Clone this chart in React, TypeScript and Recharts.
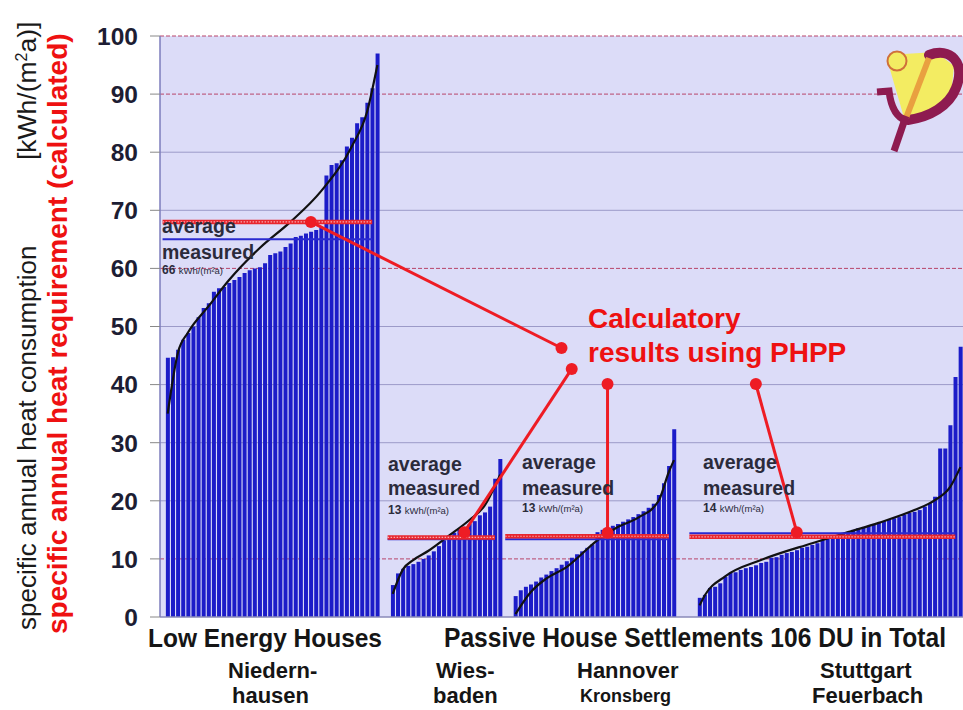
import React from "react";
import {
  ComposedChart,
  Bar,
  Line,
  XAxis,
  YAxis,
  CartesianGrid,
  ReferenceLine,
  ReferenceDot,
} from "recharts";

const FONT = "'Liberation Sans', Arial, Helvetica, sans-serif";

const yTicks = [0, 10, 20, 30, 40, 50, 60, 70, 80, 90, 100];
const plainGridValues = [20, 30, 40, 50, 70, 80];
const redGridValues = [10, 60, 90, 100];

// measured heat consumption per dwelling, sorted, kWh/(m²a)
const niedernhausen = [
  44.6, 44.7, 46, 47.7, 48.9, 50, 51.6, 53.2, 54, 56, 56.6, 56.8, 57.5, 58,
  58.5, 59.2, 59.7, 60, 60.2, 60.9, 62.3, 62.6, 62.9, 63.7, 64.3, 65.4, 65.6,
  66, 66.3, 66.6, 67, 76, 77.8, 78.1, 78.6, 81, 82.5, 85, 86, 88.5, 91, 97,
];
const wiesbaden = [
  5.5, 7.5, 8.3, 8.8, 9.1, 9.5, 10, 10.6, 11.3, 12.2, 13.2, 14, 14.5, 15, 15.4,
  16, 16.5, 17.5, 18, 19, 23.8, 27.2,
];
const hannover = [
  3.6, 4.6, 5.2, 5.6, 6.1, 6.8, 7.3, 7.9, 8.4, 9, 9.6, 10.2, 10.8, 11.3, 11.9,
  12.5, 14.6, 15, 15.3, 15.7, 16, 16.4, 16.8, 17.2, 17.7, 18.2, 18.8, 19.5, 21,
  23, 26, 32.3,
];
const stuttgart = [
  3.3, 3.8, 5, 5.2, 5.8, 6.9, 7.6, 7.7, 8.1, 8.4, 8.6, 8.9, 9.3, 9.5, 10.2,
  10.3, 10.7, 11, 11.2, 11.5, 11.9, 12.1, 12.4, 12.7, 13.3, 13.6, 13.8, 14.1,
  14.5, 14.6, 15, 15.3, 15.5, 15.7, 16, 16.2, 16.5, 16.7, 17, 17.2, 17.6, 17.9,
  18.1, 18.4, 19, 19.6, 20.7, 29, 29, 33, 41.3, 46.5,
];

const niedernhausenTrend = [
  [0, 35], [2, 45.5], [4, 49], [8, 53.5], [12, 58], [18, 63.5], [24, 68],
  [30, 73.3], [36, 81], [39, 87], [41, 95],
];
const wiesbadenTrend = [
  [0, 4], [2, 8.2], [4, 9.8], [7, 11.4], [11, 14], [15, 16.7], [18, 19.2],
  [21, 24.5],
];
const hannoverTrend = [
  [0, 0.5], [3, 4.3], [6, 6.6], [10, 8.6], [16, 13.2], [20, 15.5], [24, 17.1],
  [28, 20], [30, 25], [31, 27],
];
const stuttgartTrend = [
  [0, 2], [1, 3.7], [5, 7], [12, 9.8], [22, 12.7], [29, 14.6], [35, 16.2],
  [42, 18.4], [46, 20.1], [49, 22.4], [51, 25.8],
];

const emptySlotsBefore = [1, 2, 2, 4];
const calculatedAvg = [68, 13.7, 13.9, 13.8];
const measuredAvg = [65, 13.4, 13.4, 14.4];
const measuredText = ["66", "13", "13", "14"];
// bar index range covered by the average lines of each group
const avgSpan = [[-1, 40], [-1, 20], [-2, 30], [-2, 50]];

// PHPP callouts: [group, bar index, value] -> [group, bar index, value]
const phppLinks = [
  [[0, 28, 68], [2, 9, 46.3]],
  [[2, 11, 42.7], [1, 14, 14.6]],
  [[2, 18, 40.1], [2, 18, 14.5]],
  [[3, 11, 40.1], [3, 19, 14.6]],
];

const groups = [niedernhausen, wiesbaden, hannover, stuttgart];
const trends = [niedernhausenTrend, wiesbadenTrend, hannoverTrend, stuttgartTrend];

const rows: Record<string, any>[] = [];
const groupStart: number[] = [];
groups.forEach((values, g) => {
  for (let k = 0; k < emptySlotsBefore[g]; k++) rows.push({ slot: `s${rows.length}` });
  groupStart.push(rows.length);
  values.forEach((v) => rows.push({ slot: `s${rows.length}`, consumption: v }));
  trends[g].forEach(([i, t]) => {
    rows[groupStart[g] + i][`trend${g}`] = t;
  });
});
const slotOf = (g: number, i: number) => `s${groupStart[g] + i}`;

// text block x / baselines per group (layout only)
const noteX = [162, 388, 522, 703];
const noteY = [
  [233, 259, 274],
  [471, 495, 514],
  [469, 495, 512],
  [469, 495, 512],
];

function YTick({ x, y, payload }: any) {
  return (
    <text
      x={x}
      y={y}
      dy={8.8}
      textAnchor="end"
      fontSize={24.5}
      fontWeight="bold"
      fill="#1d1d33"
      fontFamily={FONT}
    >
      {payload.value}
    </text>
  );
}

function Overlay() {
  const bold = { fontWeight: "bold" as const, fill: "#151515" };
  return (
    <svg
      width={963}
      height={710}
      style={{ position: "absolute", left: 0, top: 0, pointerEvents: "none" }}
      fontFamily={FONT}
    >
      {/* y axis titles */}
      <text transform="translate(36,630) rotate(-90)" fontSize={26} fill="#1a1a1a">
        specific annual heat consumption
      </text>
      <text transform="translate(36,160) rotate(-90)" fontSize={26.5} fill="#1a1a1a">
        [kWh/(m<tspan dy={-9} fontSize={16}>2</tspan>
        <tspan dy={9}>a)]</tspan>
      </text>
      <text
        transform="translate(67,634) rotate(-90)"
        fontSize={28}
        fontWeight="bold"
        fill="#ee1111"
      >
        specific annual heat requirement (calculated)
      </text>

      {/* group labels */}
      <text x={148} y={647} fontSize={25} textLength={234} lengthAdjust="spacingAndGlyphs" {...bold}>
        Low Energy Houses
      </text>
      <text x={444} y={647} fontSize={27} textLength={502} lengthAdjust="spacingAndGlyphs" {...bold}>
        Passive House Settlements 106 DU in Total
      </text>
      <text x={228} y={678} fontSize={22} {...bold}>Niedern-</text>
      <text x={232} y={703} fontSize={22} {...bold}>hausen</text>
      <text x={436} y={678} fontSize={22} {...bold}>Wies-</text>
      <text x={433} y={703} fontSize={22} {...bold}>baden</text>
      <text x={577} y={678} fontSize={22} {...bold}>Hannover</text>
      <text x={580} y={702} fontSize={18} {...bold}>Kronsberg</text>
      <text x={820} y={678} fontSize={22} {...bold}>Stuttgart</text>
      <text x={812} y={703} fontSize={22} {...bold}>Feuerbach</text>

      {/* average measured notes */}
      {noteX.map((x, g) => (
        <g key={g} fill="#2b2b3b">
          <text x={x} y={noteY[g][0]} fontSize={19.5} fontWeight="bold">average</text>
          <text x={x} y={noteY[g][1]} fontSize={19.5} fontWeight="bold">measured</text>
          <text x={x} y={noteY[g][2]} fontSize={12} fontWeight="bold">
            {measuredText[g]}{" "}
            <tspan fontSize={9.5} fontWeight="normal">kWh/(m²a)</tspan>
          </text>
        </g>
      ))}

      {/* PHPP note */}
      <text x={588} y={328} fontSize={28} fontWeight="bold" fill="#ee1111">Calculatory</text>
      <text x={588} y={362} fontSize={28} fontWeight="bold" fill="#ee1111">results using PHPP</text>

      {/* logo */}
      <g>
        <polygon points="889,66 904,54 936,52 954,66 951,95 934,113 905,121" fill="#f3ec62" />
        <path
          d="M 929 55 C 950 47, 966 62, 956 88 C 949 106, 930 117, 908 120"
          fill="none"
          stroke="#8e1b50"
          strokeWidth={10}
          strokeLinecap="round"
        />
        <path d="M 877 92 L 889 91 C 891 108, 897 118, 907 121" fill="none" stroke="#8e1b50" strokeWidth={7} />
        <line x1={929} y1={58} x2={906} y2={118} stroke="#e9a040" strokeWidth={6} />
        <line x1={906} y1={116} x2={894} y2={151} stroke="#8e1b50" strokeWidth={7} />
        <circle cx={897} cy={61} r={9.5} fill="#f3ec62" stroke="#d0703a" strokeWidth={2} />
      </g>
    </svg>
  );
}

export default function App() {
  return (
    <div style={{ position: "relative", width: 963, height: 710, background: "#fff" }}>
      <style>{"body{margin:0;background:#fff}"}</style>
      <ComposedChart
        width={963}
        height={710}
        data={rows}
        margin={{ top: 36, right: 0, bottom: 0, left: 0 }}
        barCategoryGap="15%"
      >
        <CartesianGrid
          vertical={false}
          horizontalValues={plainGridValues}
          stroke="#9c9ac8"
          fill="#dcdcf8"
          fillOpacity={1}
        />
        <CartesianGrid
          vertical={false}
          horizontalValues={redGridValues}
          stroke="#b8456a"
          strokeDasharray="4 2"
        />
        <XAxis
          dataKey="slot"
          tick={false}
          tickLine={false}
          height={93}
          axisLine={{ stroke: "#8a8ab8", strokeWidth: 1.5 }}
        />
        <YAxis
          width={160}
          domain={[0, 100]}
          ticks={yTicks}
          interval={0}
          tickSize={10}
          tickMargin={12}
          tick={<YTick />}
          tickLine={{ stroke: "#888" }}
          axisLine={{ stroke: "#7d7dbd", strokeWidth: 1.5 }}
        />
        <Bar dataKey="consumption" fill="#1c1cc8" isAnimationActive={false} />
        {groups.map((_, g) => (
          <Line
            key={g}
            dataKey={`trend${g}`}
            type="monotone"
            stroke="#111"
            strokeWidth={2.2}
            dot={false}
            activeDot={false}
            connectNulls
            isAnimationActive={false}
          />
        ))}
        {measuredAvg.map((v, g) => (
          <ReferenceLine
            key={`m${g}`}
            segment={[
              { x: slotOf(g, avgSpan[g][0]), y: v },
              { x: slotOf(g, avgSpan[g][1]), y: v },
            ]}
            stroke="#2a2ad0"
            strokeWidth={2}
          />
        ))}
        {calculatedAvg.map((v, g) => (
          <ReferenceLine
            key={`c${g}`}
            segment={[
              { x: slotOf(g, avgSpan[g][0]), y: v },
              { x: slotOf(g, avgSpan[g][1]), y: v },
            ]}
            stroke="#e8262e"
            strokeWidth={4.5}
          />
        ))}
        {calculatedAvg.map((v, g) => (
          <ReferenceLine
            key={`d${g}`}
            segment={[
              { x: slotOf(g, avgSpan[g][0]), y: v },
              { x: slotOf(g, avgSpan[g][1]), y: v },
            ]}
            stroke="#f7a8b0"
            strokeWidth={1.2}
            strokeDasharray="1.5 1.5"
          />
        ))}
        {phppLinks.map(([a, b], k) => (
          <ReferenceLine
            key={`l${k}`}
            segment={[
              { x: slotOf(a[0], a[1]), y: a[2] },
              { x: slotOf(b[0], b[1]), y: b[2] },
            ]}
            stroke="#ee1c24"
            strokeWidth={3}
          />
        ))}
        {phppLinks.flat().map((p, k) => (
          <ReferenceDot
            key={`p${k}`}
            x={slotOf(p[0], p[1])}
            y={p[2]}
            r={6}
            fill="#ee1c24"
            stroke="none"
          />
        ))}
      </ComposedChart>
      <Overlay />
    </div>
  );
}
